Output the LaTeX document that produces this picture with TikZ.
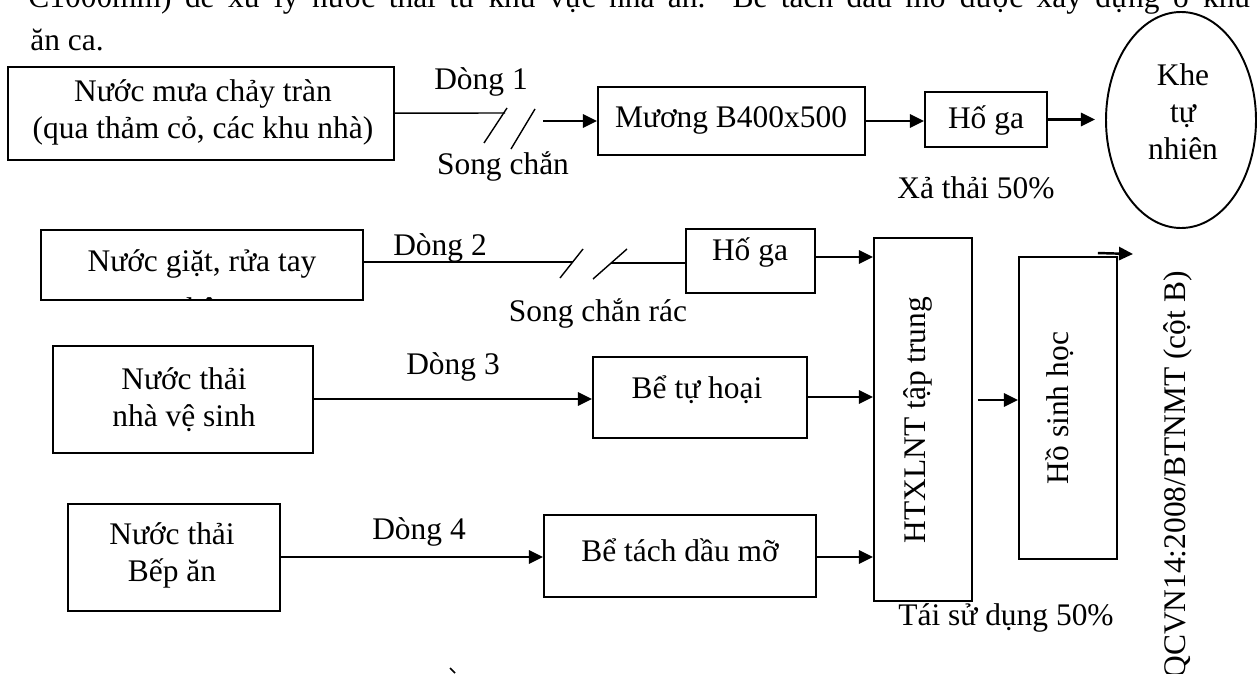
\documentclass[tikz,border=0pt]{standalone}
\usepackage{fontspec}
\setmainfont{Liberation Serif}
\usetikzlibrary{arrows.meta,shapes.geometric}
\begin{document}
\begin{tikzpicture}[x=0.02cm, y=-0.02cm,
  font=\fontsize{17.9}{21}\selectfont,
  box/.style 2 args={draw, line width=1.1pt, inner sep=0pt,
    minimum width=#1*0.02cm, minimum height=#2*0.02cm},
  lbl/.style={inner sep=0pt, align=center},
  flow/.style={line width=1.4pt, -{Triangle[length=8pt,width=7.5pt]}},
  thinline/.style={line width=0.8pt},
]
\useasboundingbox (0,0) rectangle (1258,673);
\clip (0,0) rectangle (1258,673);

% paragraph text above the scheme
\node[anchor=base west, inner sep=0pt] (para1) at (28,7)
  {\makebox[24.44cm][s]{C1000mm) để xử lý nước thải từ khu vực nhà ăn. Bể tách dầu mỡ được xây dựng ở khu}};
\node[anchor=base west, inner sep=0pt] (para2) at (30,50) {ăn ca.};

% ---- flow 1: rain water ----
\node[box={386}{93}] (b1) at (201,113.5) {};
\node[lbl] (b1t) at (203,112) {Nước mưa chảy tràn\\(qua thảm cỏ, các khu nhà)};
\coordinate (s1) at (505,113);
\draw[thinline] (b1) -- (s1);
\draw[thinline] (484,143) -- (507,108);
\draw[thinline] (511,149) -- (535,109);
\node[lbl] (d1) at (481,82) {Dòng 1};
\node[lbl] (sc1) at (503,167) {Song chắn};
\node[box={267}{68}] (mu) at (731.5,121) {};
\node[lbl] (mut) at (731,120) {Mương B400x500};
\coordinate (a1) at (543,121);
\draw[flow] (a1) -- (mu.west);
\node[box={122}{55}] (hg1) at (986,119.5) {};
\node[lbl] (hg1t) at (986,121) {Hố ga};
\draw[flow] (mu.east) -- (mu.east -| hg1.west);
\node[draw, ellipse, line width=1.1pt, inner sep=0pt,
  minimum width=150*0.02cm, minimum height=216*0.02cm] (khe) at (1181,120) {};
\node[lbl] (khet) at (1183,112) {Khe\\tự\\nhiên};
\draw[flow, shorten >=0.2cm] (hg1.east) -- (hg1.east -| khe.west);
\node[lbl] (xt) at (976,188) {Xả thải 50\%};

% ---- flow 2: washing water (second line hidden by the box edge) ----
\node[box={322}{70}] (b2) at (202,265) {};
\begin{scope}
  \clip (b2.south west) rectangle (b2.north east);
  \node[anchor=base, inner sep=0pt] (b2t) at (202,271) {Nước giặt, rửa tay};
  \node[anchor=base, inner sep=0pt] (b2u) at (202,319) {chân};
\end{scope}
\coordinate (s2a) at (573,262);
\coordinate (s2b) at (611,263);
\draw[thinline] (b2.east |- s2a) -- (s2a);
\draw[thinline] (560,278) -- (583,249);
\draw[thinline] (593,279) -- (627,249);
\node[box={129}{64}] (hg2) at (750.5,261) {};
\node[lbl] (hg2t) at (750,253) {Hố ga};
\draw[thinline] (s2b) -- (s2b -| hg2.west);
\node[lbl] (d2) at (440,248) {Dòng 2};
\node[lbl] (sc2) at (598,314) {Song chắn rác};

% ---- central treatment and pond ----
\node[box={98}{363}] (htx) at (923,419.5) {};
\node[lbl, rotate=90] (htxt) at (918,420) {HTXLNT tập trung};
\node[box={98}{302}] (hs) at (1068,408) {};
\node[lbl, rotate=90] (hst) at (1060,408) {Hồ sinh học};
\draw[flow] (hg2.east |- 0,257) -- (htx.west |- 0,257);
\draw[flow, shorten <=0.1cm] (htx.east |- 0,400) -- (hs.west |- 0,400);
\coordinate (qout) at (1133,254);
\draw[flow] (hs.north east) ++(-20,-3) -- (qout);
\node[lbl, rotate=90] (qc) at (1178,475) {QCVN14:2008/BTNMT (cột B)};
\node[lbl] (ts) at (1006,618) {Tái sử dụng 50\%};

% ---- flow 3: toilets ----
\node[box={260}{107}] (b3) at (183,399.5) {};
\node[lbl] (b3t) at (184,400) {Nước thải\\nhà vệ sinh};
\node[box={214}{81}] (bth) at (700,397.5) {};
\node[lbl] (btht) at (697,390) {Bể tự hoại};
\draw[flow] (b3.east |- 0,399) -- (bth.west |- 0,399);
\draw[flow] (bth.east |- 0,397) -- (htx.west |- 0,397);
\node[lbl] (d3) at (453,367) {Dòng 3};

% ---- flow 4: kitchen ----
\node[box={212}{107}] (b4) at (174,557.5) {};
\node[lbl] (b4t) at (172,555) {Nước thải\\Bếp ăn};
\node[box={272}{82}] (btd) at (680,556) {};
\node[lbl] (btdt) at (680,550) {Bể tách dầu mỡ};
\draw[flow] (b4.east |- 0,557) -- (btd.west |- 0,557);
\draw[flow] (btd.east |- 0,557) -- (htx.west |- 0,557);
\node[lbl] (d4) at (419,532) {Dòng 4};

% accent of the next text line
\draw[line width=1pt] (450,668) -- (455,673);
\end{tikzpicture}
\end{document}
